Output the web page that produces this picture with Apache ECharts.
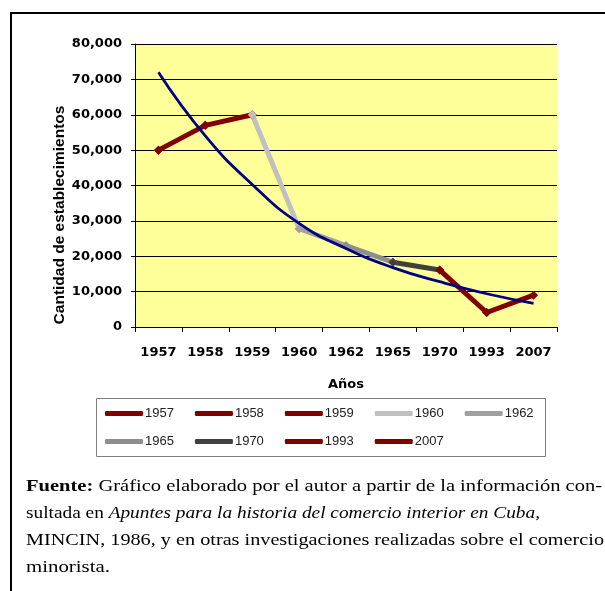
<!DOCTYPE html>
<html>

<head>
    <meta charset="utf-8">
    <title>Establecimientos por año</title>
    <script src="https://cdn.jsdelivr.net/npm/echarts@6/dist/echarts.min.js"></script>
    <style>
        body {
            margin: 0;
            background: #ffffff;
        }

        #Wrap {
            position: relative;
            width: 605px;
            height: 591px;
            overflow: hidden;
        }

        #Chart {
            position: absolute;
            left: 0;
            top: 0;
            width: 605px;
            height: 591px;
        }

        #Frame {
            position: absolute;
            left: 10px;
            top: 12px;
            width: 600px;
            height: 600px;
            border-left: 2px solid #000;
            border-top: 2px solid #000;
            pointer-events: none;
        }

        #Fuente {
            position: absolute;
            left: 26px;
            top: 472px;
            font-family: "Liberation Serif", serif;
            font-size: 17px;
            line-height: 27px;
            color: #000;
        }

        #Fuente .ln {
            display: block;
            white-space: nowrap;
            width: max-content;
            transform-origin: 0 0;
        }
    </style>
    <script>
        // years on the axis, one line series per year (segment ending at that year)
        const years = ['1957', '1958', '1959', '1960', '1962', '1965', '1970', '1993', '2007'];
        const establishments = [50000, 57000, 60000, 27800, 23000, 18300, 16100, 4100, 9000];
        const trendValues = [72000, 54000, 40300, 29300, 22200, 16800, 12800, 9400, 6700];
        const yTicks = [0, 10000, 20000, 30000, 40000, 50000, 60000, 70000, 80000];
        const seriesColors = ['#800000', '#800000', '#800000', '#c0c0c0', '#a0a0a0',
            '#8e8e8e', '#404040', '#800000', '#800000'];
        // right end (px) of each line of the source note in the original
        const noteLineEnds = [602, 540, 604, 110];

        document.addEventListener('DOMContentLoaded', function () {
            // stretch each line of the note to the width it has in the original block
            document.querySelectorAll('#Fuente .ln').forEach((ln, i) => {
                const w = ln.getBoundingClientRect().width;
                ln.style.transform = 'scaleX(' + ((noteLineEnds[i] - 26) / w) + ')';
            });

            const chart = echarts.init(document.getElementById('Chart'));
            const axisFont = { fontFamily: 'DejaVu Sans', fontWeight: 'bold', fontSize: 13, color: '#000' };

            let lineSeries = years.map((name, i) => ({
                name: name,
                type: 'line',
                data: establishments.map((v, j) => (j === i || j === i - 1) ? v : '-'),
                symbol: 'diamond',
                symbolSize: 9,
                showSymbol: true,
                itemStyle: { color: seriesColors[i] },
                lineStyle: { color: seriesColors[i], width: 5 },
                z: 2
            }));

            lineSeries.push({
                name: 'Tendencia',
                type: 'line',
                data: trendValues,
                smooth: 0.5,
                showSymbol: false,
                lineStyle: { color: '#000080', width: 2.8 },
                z: 3
            });

            const legendBase = {
                left: 105,
                itemGap: 21,
                itemWidth: 38,
                itemHeight: 5,
                icon: 'roundRect',
                padding: 0,
                textStyle: { fontFamily: 'Liberation Sans', fontSize: 13, color: '#222', padding: [0, 0, 0, -3] }
            };

            const option = {
                animation: false,
                grid: {
                    left: 135, right: 48, top: 44, bottom: 264,
                    show: true, backgroundColor: '#ffff99', borderWidth: 0
                },
                xAxis: {
                    type: 'category',
                    data: years,
                    boundaryGap: true,
                    name: 'Años',
                    nameLocation: 'middle',
                    nameGap: 51,
                    nameTextStyle: axisFont,
                    axisLine: { lineStyle: { color: '#000', width: 1 } },
                    axisTick: { show: true, length: 5, lineStyle: { color: '#000' } },
                    axisLabel: Object.assign({ margin: 19, interval: 0 }, axisFont)
                },
                yAxis: {
                    type: 'value',
                    min: yTicks[0],
                    max: yTicks[yTicks.length - 1],
                    interval: 10000,
                    axisLine: { show: true, lineStyle: { color: '#000', width: 1 } },
                    axisTick: { show: true, length: 4, lineStyle: { color: '#000' } },
                    splitLine: { lineStyle: { color: '#000', width: 1 } },
                    axisLabel: Object.assign({
                        margin: 13,
                        formatter: v => v.toLocaleString('en-US')
                    }, axisFont)
                },
                legend: [
                    Object.assign({ data: years.slice(0, 5), top: 407 }, legendBase),
                    Object.assign({ data: years.slice(5), top: 435 }, legendBase)
                ],
                graphic: [{
                    type: 'text',
                    x: 60,
                    y: 215,
                    rotation: Math.PI / 2,
                    style: {
                        text: 'Cantidad de establecimientos',
                        fill: '#000',
                        font: 'bold 15.5px "Liberation Sans"',
                        align: 'center',
                        verticalAlign: 'middle'
                    }
                }, {
                    type: 'rect',
                    shape: { x: 96.5, y: 398.5, width: 449, height: 58 },
                    style: { fill: 'none', stroke: '#7f7f7f', lineWidth: 1 },
                    z: -1
                }],
                series: lineSeries
            };
            chart.setOption(option);
        });
    </script>
</head>

<body>
    <div id="Wrap">
        <div id="Chart"></div>
        <div id="Frame"></div>
        <div id="Fuente">
            <span class="ln"><b>Fuente:</b> Gráfico elaborado por el autor a partir de la información con-</span>
            <span class="ln">sultada en <i>Apuntes para la historia del comercio interior en Cuba,</i></span>
            <span class="ln">MINCIN, 1986, y en otras investigaciones realizadas sobre el comercio</span>
            <span class="ln">minorista.</span>
        </div>
    </div>
</body>

</html>
